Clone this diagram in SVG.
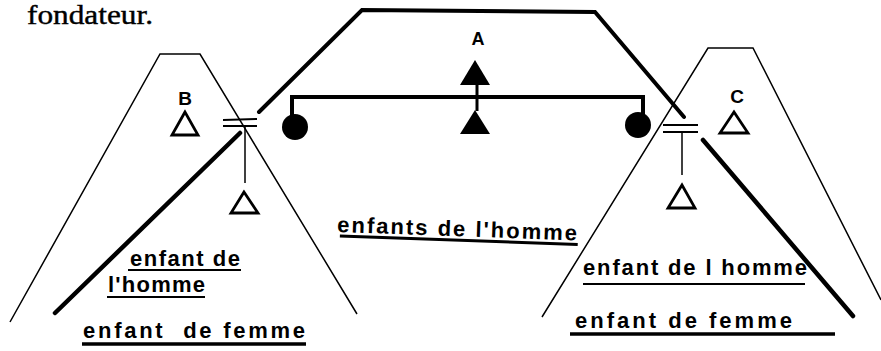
<svg xmlns="http://www.w3.org/2000/svg" width="881" height="351" viewBox="0 0 881 351">
<style>
.thin{fill:none;stroke:#000;stroke-width:1.5;stroke-linejoin:miter}
.thick{fill:none;stroke:#000;stroke-width:4.5;stroke-linecap:round;stroke-linejoin:miter}
.med{fill:none;stroke:#000;stroke-width:2}
.open{fill:none;stroke:#000;stroke-width:2.8;stroke-linejoin:miter}
.solid{fill:#000;stroke:none}
.lab{font-family:"Liberation Sans",Arial,sans-serif;font-weight:bold;fill:#000}
.txt{font-family:"Liberation Sans",Arial,sans-serif;font-weight:bold;font-size:22px;fill:#000}
.ul{stroke:#000;fill:none}
</style>
<rect width="881" height="351" fill="#fff"/>
<text x="27" y="24" font-family="Liberation Serif,Times New Roman,serif" font-size="27" textLength="126" lengthAdjust="spacingAndGlyphs" stroke="#000" stroke-width="0.4">fondateur.</text>

<g id="connectors">
<polyline class="thin" points="10,322 160,54 200,54 357,314"/>
<polyline class="thin" points="542,317 708,48 753,48 881,300"/>
<polyline class="thick" points="259,112 362,10 595,12 684,117" style="stroke-width:4"/>
<line class="thick" x1="240" y1="133" x2="55" y2="313"/>
<line class="thick" x1="703" y1="140" x2="853" y2="316"/>
<polyline class="thick" points="292,118 292,97 643,97 643,115" style="stroke-width:4;stroke-linecap:butt"/>
<line x1="477" y1="84" x2="477" y2="111" stroke="#000" stroke-width="3"/>
<line class="med" x1="223" y1="120" x2="257" y2="119"/>
<line class="med" x1="223" y1="126" x2="257" y2="126"/>
<line class="thin" x1="245" y1="127" x2="245" y2="183"/>
<line class="med" x1="663" y1="125" x2="698" y2="125"/>
<line class="med" x1="663" y1="132" x2="698" y2="132"/>
<line class="thin" x1="682" y1="132" x2="682" y2="175"/>
</g>

<g id="node-A">
<text class="lab" x="478" y="45" font-size="18" text-anchor="middle">A</text>
<polygon class="solid" points="475,60 460,85 490,85"/>
<polygon class="solid" points="475,110 460,134 490,134"/>
</g>
<g id="node-wife-left"><circle class="solid" cx="295" cy="127" r="13"/></g>
<g id="node-wife-right"><circle class="solid" cx="638" cy="125" r="13"/></g>

<g id="node-B">
<text class="lab" x="185" y="105" font-size="19" text-anchor="middle">B</text>
<polygon class="open" points="185,112 172,135 198,135"/>
</g>
<g id="node-child-left"><polygon class="open" points="244,192 231,213 258,213"/></g>
<g id="node-C">
<text class="lab" x="737" y="103" font-size="19" text-anchor="middle">C</text>
<polygon class="open" points="734,112 720,133 748,133"/>
</g>
<g id="node-child-right"><polygon class="open" points="682,185 668,208 695,208"/></g>

<g id="labels">
<g transform="rotate(2 337 232)">
<text class="txt" x="337" y="232" textLength="240" lengthAdjust="spacing">enfants de l'homme</text>
<line class="ul" x1="340" y1="236" x2="578" y2="236" stroke-width="3"/>
</g>
<text class="txt" x="130" y="266" textLength="110" lengthAdjust="spacing">enfant de</text>
<line class="ul" x1="128" y1="270" x2="241" y2="270" stroke-width="2"/>
<text class="txt" x="108" y="292" textLength="97" lengthAdjust="spacing">l'homme</text>
<line class="ul" x1="107" y1="297" x2="205" y2="297" stroke-width="2"/>
<text class="txt" x="83" y="338" textLength="222" lengthAdjust="spacing" xml:space="preserve">enfant  de femme</text>
<line class="ul" x1="82" y1="344" x2="306" y2="344" stroke-width="3.5"/>
<text class="txt" x="583" y="275" textLength="224" lengthAdjust="spacing">enfant de l homme</text>
<line class="ul" x1="583" y1="284" x2="805" y2="284" stroke-width="2"/>
<text class="txt" x="575" y="328" textLength="217" lengthAdjust="spacing">enfant de femme</text>
<line class="ul" x1="570" y1="334" x2="835" y2="334" stroke-width="3.5"/>
</g>
</svg>
